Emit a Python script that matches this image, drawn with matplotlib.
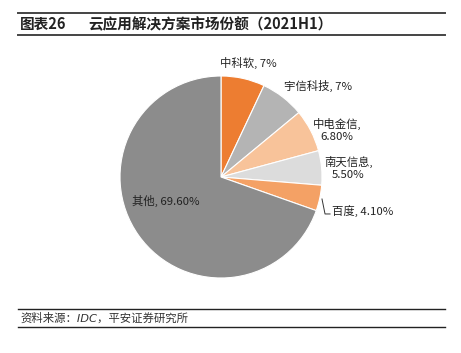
import matplotlib
matplotlib.use('Agg')
import matplotlib.pyplot as plt
from matplotlib.lines import Line2D

plt.rcParams['font.family'] = ['Noto Sans CJK SC', 'DejaVu Sans']

# Data
labels = ['中科软', '宇信科技', '中电金信', '南天信息', '百度', '其他']
shares = [7.0, 7.0, 6.8, 5.5, 4.1, 69.6]
label_texts = ['中科软, 7%', '宇信科技, 7%', '中电金信,\n6.80%', '南天信息,\n5.50%', '百度, 4.10%', '其他, 69.60%']
colors = ['#ED7D31', '#B4B4B4', '#F8C39A', '#DCDCDC', '#F4A165', '#8C8C8C']

W, H = 461, 353
fig = plt.figure(figsize=(W / 100, H / 100), dpi=100)

# pie axes: centre ~ (221,177) px, radius ~101 px
cx, cy, r = 221, 177, 101
ax = fig.add_axes([(cx - r) / W, (H - cy - r) / H, 2 * r / W, 2 * r / H])
ax.pie(shares, colors=colors, startangle=90, counterclock=False,
       wedgeprops=dict(linewidth=0.8, edgecolor='white'))
ax.set_xlim(-1, 1)
ax.set_ylim(-1, 1)
ax.set_aspect('equal')
ax.axis('off')

# label positions (in pie radius units)
label_pos = [(0.267, 1.13, 'center'), (0.62, 0.90, 'left'), (1.15, 0.465, 'center'),
             (1.26, 0.09, 'center'), (1.10, -0.337, 'left'), (-0.88, -0.238, 'left')]
for txt, (x, y, ha) in zip(label_texts, label_pos):
    ax.text(x, y, txt, ha=ha, va='center', fontsize=8.2, color='#222222',
            multialignment='center', linespacing=1.3, clip_on=False)

# leader line for 百度
ax.add_line(Line2D([1.0, 1.03, 1.08], [-0.218, -0.366, -0.366], color='#333333',
                   linewidth=0.7, clip_on=False))

# header
for yy in [13, 35]:
    fig.add_artist(Line2D([18 / W, 445 / W], [1 - yy / H] * 2, color='#444444', linewidth=1.4))
fig.text(20 / W, 1 - 24 / H, '图表26', fontsize=10.5, fontweight='bold', va='center', color='#222222')
fig.text(88 / W, 1 - 24 / H, '云应用解决方案市场份额（2021H1）', fontsize=10.5, fontweight='bold',
         va='center', color='#222222')

# footer
for yy in [309, 327]:
    fig.add_artist(Line2D([18 / W, 445 / W], [1 - yy / H] * 2, color='#222222', linewidth=1.0))
fig.text(20 / W, 1 - 318 / H, '资料来源：IDC，平安证券研究所', fontsize=8.2, style='italic',
         family=['DejaVu Sans', 'Noto Sans CJK SC'], va='center', color='#333333')

fig.savefig('out.png', dpi=100)
